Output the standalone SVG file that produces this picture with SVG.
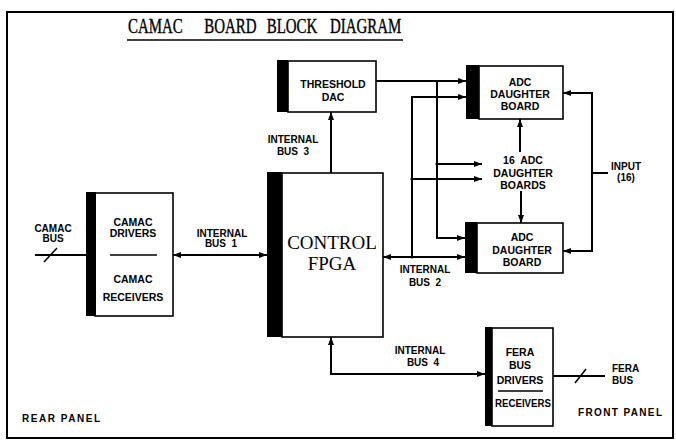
<svg xmlns="http://www.w3.org/2000/svg" width="676" height="441" viewBox="0 0 676 441">
<defs>
<marker id="a" viewBox="0 0 8 6" refX="8" refY="3" markerWidth="8" markerHeight="6" markerUnits="userSpaceOnUse" orient="auto-start-reverse">
<path d="M0,0 L8,3 L0,6 z" fill="#000"/>
</marker>
<style>
.ln{fill:none;stroke:#000;stroke-width:2}
.bx{fill:#fff;stroke:#000;stroke-width:1.6}
.bar{fill:#000}
.t{font-family:"Liberation Sans",Arial,sans-serif;font-weight:bold;font-size:10.5px;fill:#000;text-anchor:middle}
.s{font-family:"Liberation Sans",Arial,sans-serif;font-weight:bold;font-size:10px;fill:#000;text-anchor:middle}
.l{font-family:"Liberation Sans",Arial,sans-serif;font-weight:bold;font-size:10px;fill:#000}
.big{font-family:"Liberation Serif","Times New Roman",serif;font-size:19px;fill:#000;text-anchor:middle}
.ti{font-family:"Liberation Serif","Times New Roman",serif;font-size:22px;fill:#000;stroke:#000;stroke-width:0.4}
</style>
</defs>
<rect x="0" y="0" width="676" height="441" fill="#fff"/>
<rect x="7" y="12" width="666" height="426" fill="none" stroke="#000" stroke-width="2"/>

<g id="title">
<text class="ti" transform="translate(128,33) scale(0.68,1)"><tspan x="0" y="0">CAMAC</tspan><tspan x="112" y="0">BOARD</tspan><tspan x="204" y="0">BLOCK</tspan><tspan x="297" y="0">DIAGRAM</tspan></text>
<line x1="127" y1="40" x2="403" y2="40" stroke="#000" stroke-width="1.6"/>
</g>

<g id="connectors">
<line class="ln" x1="35" y1="255" x2="86" y2="255"/>
<line x1="44" y1="262" x2="57" y2="248" stroke="#000" stroke-width="1.5"/>
<line class="ln" x1="173" y1="255" x2="267" y2="255" marker-start="url(#a)" marker-end="url(#a)"/>
<line class="ln" x1="331" y1="173" x2="331" y2="112" marker-end="url(#a)"/>
<line class="ln" x1="376" y1="81" x2="466" y2="81" marker-end="url(#a)"/>
<path class="ln" d="M412,257 V97 H466" marker-end="url(#a)"/>
<path class="ln" d="M437,81 V238 H465" marker-end="url(#a)"/>
<line class="ln" x1="437" y1="164" x2="482" y2="164" marker-end="url(#a)"/>
<line class="ln" x1="412" y1="179" x2="482" y2="179" marker-end="url(#a)"/>
<line class="ln" x1="383" y1="257" x2="465" y2="257" marker-start="url(#a)" marker-end="url(#a)"/>
<line class="ln" x1="520" y1="152" x2="520" y2="119" marker-end="url(#a)"/>
<line class="ln" x1="521" y1="191" x2="521" y2="223" marker-end="url(#a)"/>
<path class="ln" d="M592,173 V93 H563" marker-end="url(#a)"/>
<path class="ln" d="M592,173 V251 H563" marker-end="url(#a)"/>
<line class="ln" x1="592" y1="173" x2="608" y2="173"/>
<path class="ln" d="M331,337 V374 H485" marker-start="url(#a)" marker-end="url(#a)"/>
<line class="ln" x1="553" y1="376" x2="605" y2="376"/>
<line x1="575" y1="383" x2="586" y2="369" stroke="#000" stroke-width="1.5"/>
<circle cx="437" cy="164" r="1.6"/>
<circle cx="412" cy="179" r="1.6"/>
<circle cx="412" cy="257" r="1.6"/>
</g>

<g id="camac-drivers">
<rect class="bx" x="95" y="193" width="78" height="123"/>
<rect class="bar" x="86" y="192" width="10" height="124"/>
<text class="t" x="133" y="226">CAMAC</text>
<text class="t" x="133" y="237">DRIVERS</text>
<line x1="110" y1="255" x2="157" y2="255" stroke="#000" stroke-width="1.6"/>
<text class="t" x="133" y="283">CAMAC</text>
<text class="t" x="133" y="301">RECEIVERS</text>
</g>

<g id="control-fpga">
<rect class="bx" x="282" y="173" width="101" height="164"/>
<rect class="bar" x="267" y="172" width="15" height="165"/>
<text class="big" x="332" y="249">CONTROL</text>
<text class="big" x="332" y="270">FPGA</text>
</g>

<g id="threshold-dac">
<rect class="bx" x="288" y="61" width="88" height="51"/>
<rect class="bar" x="277" y="60" width="11" height="52"/>
<text class="t" x="333" y="88">THRESHOLD</text>
<text class="t" x="333" y="101">DAC</text>
</g>

<g id="adc-top">
<rect class="bx" x="479" y="66" width="84" height="53"/>
<rect class="bar" x="466" y="65" width="13" height="54"/>
<text class="t" x="520" y="86">ADC</text>
<text class="t" x="520" y="98">DAUGHTER</text>
<text class="t" x="520" y="110">BOARD</text>
</g>

<g id="adc-bottom">
<rect class="bx" x="477" y="223" width="86" height="50"/>
<rect class="bar" x="465" y="222" width="12" height="51"/>
<text class="t" x="522" y="241">ADC</text>
<text class="t" x="522" y="254">DAUGHTER</text>
<text class="t" x="522" y="266">BOARD</text>
</g>

<g id="fera">
<rect class="bx" x="492" y="328" width="61" height="98"/>
<rect class="bar" x="485" y="327" width="7" height="99"/>
<text class="t" x="520" y="356">FERA</text>
<text class="t" x="520" y="369">BUS</text>
<text class="t" x="520" y="384">DRIVERS</text>
<line x1="498" y1="391" x2="543" y2="391" stroke="#000" stroke-width="1.6"/>
<text class="t" x="523" y="407" textLength="56" lengthAdjust="spacingAndGlyphs">RECEIVERS</text>
</g>

<g id="labels">
<text class="s" x="53" y="232">CAMAC</text>
<text class="s" x="53" y="242">BUS</text>
<text class="s" x="222" y="237">INTERNAL</text>
<text class="s" x="221" y="247" xml:space="preserve">BUS  1</text>
<text class="s" x="293" y="143">INTERNAL</text>
<text class="s" x="293" y="155" xml:space="preserve">BUS  3</text>
<text class="s" x="425" y="273">INTERNAL</text>
<text class="s" x="425" y="286" xml:space="preserve">BUS  2</text>
<text class="s" x="420" y="354">INTERNAL</text>
<text class="s" x="423" y="366" xml:space="preserve">BUS  4</text>
<text class="t" x="523" y="164" xml:space="preserve">16  ADC</text>
<text class="t" x="523" y="177">DAUGHTER</text>
<text class="t" x="523" y="189">BOARDS</text>
<text class="s" x="626" y="170">INPUT</text>
<text class="s" x="626" y="181">(16)</text>
<text class="l" x="612" y="372">FERA</text>
<text class="l" x="612" y="384">BUS</text>
<text class="l" x="578" y="416" textLength="84" lengthAdjust="spacing">FRONT PANEL</text>
<text class="l" x="22" y="422" textLength="78" lengthAdjust="spacing">REAR PANEL</text>
</g>
</svg>
